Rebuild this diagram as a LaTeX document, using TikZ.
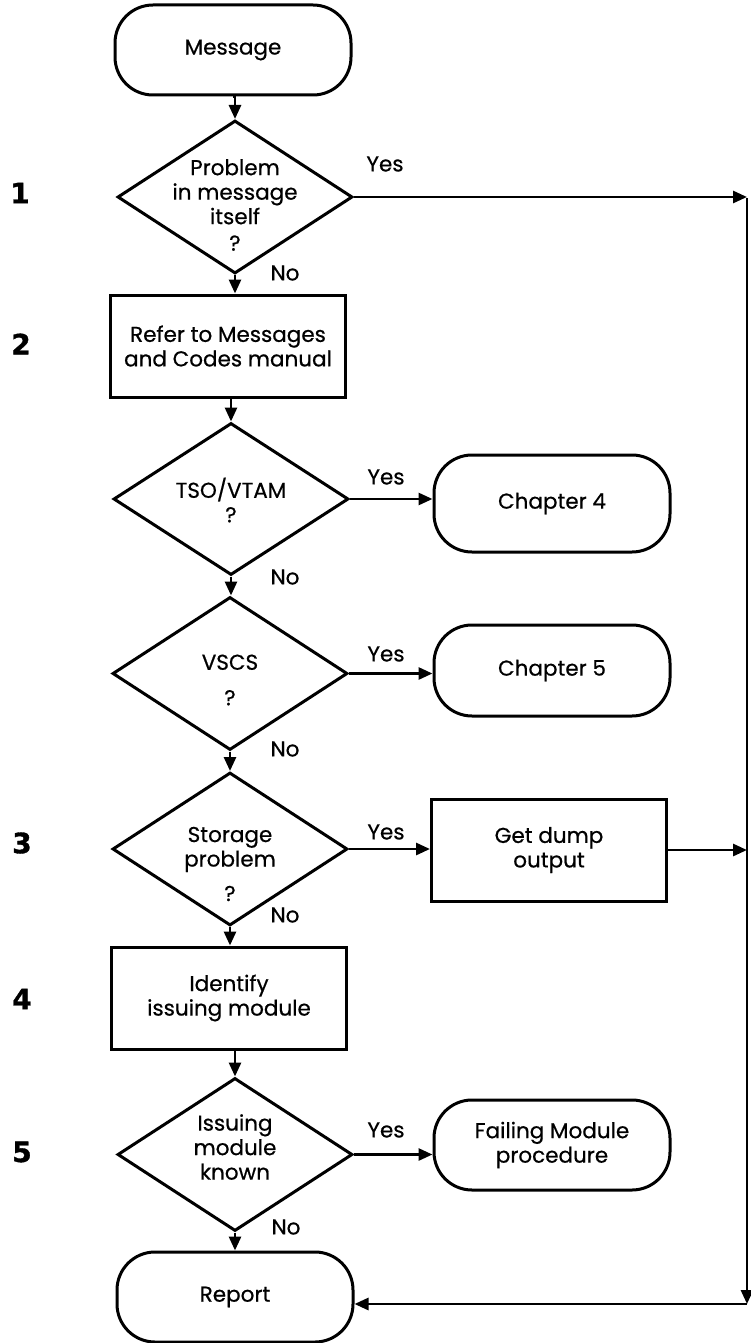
\documentclass[tikz,border=0pt]{standalone}
\usepackage{fontspec}
\setmainfont{Poppins}[FakeBold=0.6]
\newfontfamily\numfont{DejaVu Sans}[BoldFeatures={FakeBold=1.2}]
\usetikzlibrary{shapes.geometric,arrows.meta}

\begin{document}
\begin{tikzpicture}[x=1pt,y=-1pt,
  every node/.style={font=\fontsize{21.5}{24.5}\selectfont},
  term/.style={draw, line width=3pt, rounded corners=38pt, minimum width=236pt,
    minimum height=90pt, align=center, inner sep=0pt},
  procbox/.style={draw, line width=3pt, minimum width=235pt, minimum height=102pt,
    align=center, inner sep=0pt},
  decision/.style={draw, diamond, line width=3pt, minimum width=235pt,
    minimum height=153pt, inner sep=0pt},
  dtext/.style={align=center, inner sep=0pt},
  flow/.style={line width=2.8pt, -{Triangle[length=14pt,width=12pt]}},
  answer/.style={inner sep=0pt},
  stepno/.style={font=\numfont\bfseries\fontsize{28}{28}\selectfont, inner sep=0pt}
]
\useasboundingbox (0,0) rectangle (750,1343);

% main column
\node[term] (msg) at (233,50) {Message};
\node[decision] (d1) at (235,197) {};
\node[dtext] (t1) at (235,205) {Problem\\in message\\itself\\[2pt]?};
\node[procbox] (box2) at (228,346) {Refer to Messages\\and Codes manual};
\node[decision, minimum height=152pt] (d2) at (231,499) {};
\node[dtext] (t2) at (231,500) {TSO/VTAM\\?};
\node[decision] (d3) at (230,673.5) {};
\node[dtext] (t3) at (230,680) {VSCS\\[11pt]?};
\node[decision] (d4) at (230,849) {};
\node[dtext] (t4) at (230,864) {Storage\\problem\\[10pt]?};
\node[procbox] (box4) at (229,998) {Identify\\issuing module};
\node[decision] (d5) at (235,1154.5) {};
\node[dtext] (t5) at (235,1147) {Issuing\\module\\known};
\node[term] (report) at (235,1297) {Report};

% right column
\node[term, minimum height=97pt] (ch4) at (552,503.5) {Chapter 4};
\node[term, minimum height=91pt] (ch5) at (552,670.5) {Chapter 5};
\node[procbox] (dump) at (549,850) {Get dump\\output};
\node[term] (fail) at (552,1145) {Failing Module\\procedure};

% collector line on the right edge
\coordinate (r1) at (747,198);
\coordinate (r3) at (747,1304);

% step numbers
\node[stepno] (n1) at (20,193) {1};
\node[stepno] (n2) at (21,344) {2};
\node[stepno] (n3) at (22,843) {3};
\node[stepno] (n4) at (22,999) {4};
\node[stepno] (n5) at (22,1152) {5};

% branch labels
\node[answer] (y1) at (385,164) {Yes};
\node[answer] (y2) at (386,477) {Yes};
\node[answer] (y3) at (386,654) {Yes};
\node[answer] (y4) at (386,832) {Yes};
\node[answer] (y5) at (386,1130) {Yes};
\node[answer] (o1) at (285,273) {No};
\node[answer] (o2) at (285,577) {No};
\node[answer] (o3) at (285,749) {No};
\node[answer] (o4) at (285,915) {No};
\node[answer] (o5) at (286,1227) {No};

% downward flow
\draw[flow] (msg.south) -- (msg.south -| d1.north) -- (d1.north);
\draw[flow] (d1.south) -- (d1.south |- box2.north);
\draw[flow] (d2.north |- box2.south) -- (d2.north);
\draw[flow] (d2.south) -- (d2.south |- d3.north);
\draw[flow] (d3.south) -- (d3.south |- d4.north);
\draw[flow] (d4.south) -- (d4.south |- box4.north);
\draw[flow] (d5.north |- box4.south) -- (d5.north);
\draw[flow] (d5.south) -- (d5.south |- report.north);

% yes branches
\draw[flow] (d1.east) -- (d1.east -| r1);
\draw[flow] (d2.east) -- (d2.east -| ch4.west);
\draw[flow] (d3.east) -- (d3.east -| ch5.west);
\draw[flow] (d4.east) -- (d4.east -| dump.west);
\draw[flow] (d5.east) -- (d5.east -| fail.west);
\draw[flow] (dump.east) -- (dump.east -| r1);

% return path to Report
\draw[flow] (r1) -- (r3);
\draw[flow] (r3) -- (report.east |- r3);
\end{tikzpicture}
\end{document}
